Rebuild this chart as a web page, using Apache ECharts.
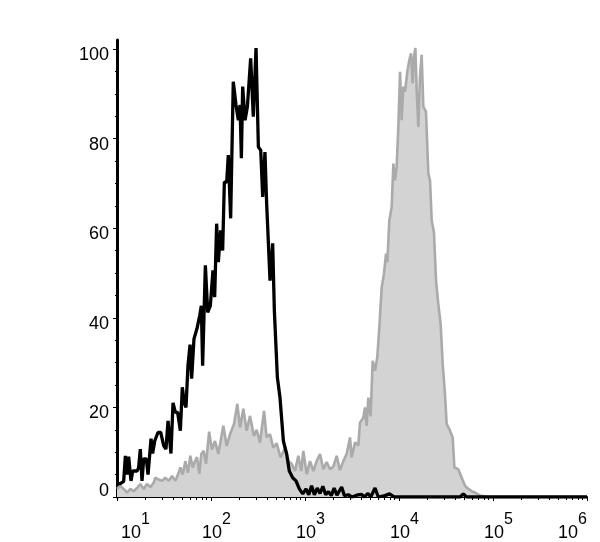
<!DOCTYPE html>
<html>
<head>
<meta charset="utf-8">
<script src="https://cdn.jsdelivr.net/npm/echarts@6/dist/echarts.min.js"></script>
<style>html,body{margin:0;padding:0;background:#fff}#c{width:600px;height:542px}</style>
</head>
<body>
<div id="c"></div>
<script>
// log10 of fluorescence intensity (x) and % of max count (y)
const blackX = [1.000,1.035,1.071,1.089,1.106,1.124,1.149,1.167,1.188,1.213,
1.230,1.248,1.266,1.284,1.312,1.330,1.362,1.379,1.401,1.436,
1.465,1.496,1.521,1.543,1.574,1.596,1.621,1.645,1.674,1.695,
1.716,1.734,1.755,1.777,1.794,1.819,1.851,1.880,1.897,1.911,
1.940,1.965,1.993,2.021,2.039,2.060,2.078,2.103,2.124,2.142,
2.167,2.184,2.209,2.237,2.266,2.291,2.309,2.323,2.337,2.362,
2.387,2.422,2.450,2.479,2.504,2.529,2.550,2.574,2.592,2.628,
2.656,2.674,2.706,2.734,2.770,2.805,2.833,2.869,2.904,2.940,
2.976,3.011,3.040,3.07,3.10,3.13,3.16,3.19,3.22,3.25,
3.28,3.31,3.34,3.37,3.39,3.42,3.46,3.50,3.55,3.60,
3.63,3.67,3.70,3.745,3.78,3.85,3.90,3.95,4.65,4.684,
4.72,6.0];
const blackY = [3,3,3.5,9.2,5,9,3.6,5.8,5.5,5.8,
6.5,10.7,3.6,8.5,8.5,5,13,9.7,12.5,14.4,
14.4,11.5,10.7,17,9.7,21,18.9,18.9,14.8,24.5,
21,20,29.3,34,26.4,35.3,37.6,40.5,42.7,29.3,
51.7,41.2,42.7,50.6,44.6,61,52.4,59.5,55,70.3,
70.3,76.3,62.2,92.7,87.5,84.1,87.5,75.6,91.6,84.1,
87.1,97.9,84.9,100.2,78.1,77.4,67,77,65.5,48.3,
56.6,41.6,26.7,22.2,12.5,9.6,5.8,4.3,3.6,1.8,
0.7,1.8,0.5,2.5,0.5,2.0,0.8,2.4,0.5,1.2,
0.3,2.0,0.4,1.5,2.2,0.3,0.5,0,0.4,0.6,
0,0.8,0,2.0,0,0.3,0.7,0,0,0.7,
0,0];
const grayX = [1.000,1.035,1.071,1.106,1.142,1.177,1.213,1.248,1.284,1.319,
1.355,1.390,1.408,1.443,1.479,1.514,1.550,1.585,1.621,1.656,
1.674,1.699,1.727,1.755,1.780,1.805,1.826,1.851,1.876,1.897,
1.922,1.947,1.980,2.009,2.043,2.078,2.131,2.167,2.202,2.245,
2.280,2.309,2.344,2.379,2.415,2.457,2.486,2.521,2.564,2.592,
2.628,2.663,2.699,2.741,2.787,2.823,2.858,2.894,2.929,2.960,
2.982,3.018,3.053,3.089,3.124,3.160,3.195,3.230,3.266,3.301,
3.337,3.372,3.408,3.443,3.479,3.496,3.532,3.567,3.585,3.620,
3.638,3.656,3.674,3.698,3.720,3.745,3.769,3.791,3.816,3.840,
3.862,3.876,3.897,3.922,3.940,3.957,3.975,3.993,4.011,4.028,
4.046,4.064,4.088,4.110,4.128,4.145,4.160,4.174,4.188,4.206,
4.223,4.241,4.259,4.287,4.312,4.330,4.348,4.372,4.394,4.418,
4.443,4.465,4.489,4.507,4.543,4.571,4.589,4.631,4.667,4.702,
4.738,4.773,4.809,4.862,4.950,6.0];
const grayY = [1.8,2.5,1.8,1.0,1.8,1.3,2.0,2.9,1.8,2.9,
2.2,3.2,4.3,3.9,3.6,4.3,3.6,4.7,3.6,5.4,
6.6,5.0,8.0,5.4,9.2,6.6,7.8,8.9,5.2,9.6,
10.3,7.4,14.6,10.6,12.5,9.6,15.9,11.4,14.0,16.3,
20.8,15.5,19.7,14.8,18.1,13.6,15.0,12.1,19.2,13.3,
14.0,11.0,12.0,8.8,11.0,8.0,7.4,5.8,9.2,5.8,
10.3,5.1,8.0,5.8,8.0,9.6,6.2,7.8,6.2,6.8,
9.2,6.0,8.0,9.6,13.3,8.8,12.2,11.5,16.6,17.7,
20.0,15.9,22.2,18.0,30.4,28.2,31.2,37.9,46.8,49.8,
54.3,52.4,61.7,64.7,74.4,70.7,73.7,82.6,94.9,84.1,
91.6,90.5,94.9,97.5,99.0,92.3,98.3,100.2,90.8,82.6,
93.8,98.7,87.1,86.0,72.2,70.7,61.7,59.1,48.3,43.1,
38.6,29.7,23.0,16.3,14.8,13.3,6.6,6.2,4.3,2.5,
1.8,1.3,1.0,0.3,0,0];
const xDecades = [1,2,3,4,5,6];
const yTicks = [0,20,40,60,80,100];

const minorX = [];
for (let d = 1; d < 6; d++) for (let k = 2; k <= 9; k++) minorX.push(d + Math.log10(k));

const FONT = 'Arial, "Liberation Sans", sans-serif';
const chart = echarts.init(document.getElementById('c'), null, {renderer: 'canvas'});
chart.setOption({
  animation: false,
  backgroundColor: '#fff',
  grid: {left: 117, right: 13, top: 40, bottom: 45, containLabel: false},
  xAxis: [{
    type: 'value', min: 1, max: 6, interval: 1, position: 'bottom',
    axisLine: {show: true, onZero: false, lineStyle: {color: '#000', width: 2}},
    axisTick: {show: true, length: 4, customValues: xDecades, lineStyle: {color: '#000', width: 1}},
    splitLine: {show: false},
    axisLabel: {
      customValues: xDecades,
      margin: 15, color: '#000', fontFamily: FONT,
      alignMinLabel: 'left', alignMaxLabel: 'right',
      formatter: v => (v === 1 ? '{q|}' : '{p|}') + '{b|10}{s|' + v + '}',
      rich: {
        p: {width: 11, lineHeight: 30},
        q: {width: 4, lineHeight: 30},
        b: {fontSize: 18, lineHeight: 14, verticalAlign: 'bottom', fontFamily: FONT, color: '#000'},
        s: {fontSize: 16, lineHeight: 18, verticalAlign: 'top', fontFamily: FONT, color: '#000'}
      }
    }
  }, {
    type: 'value', min: 1, max: 6, position: 'bottom', offset: 0,
    axisLine: {show: false},
    axisLabel: {show: false},
    splitLine: {show: false},
    axisTick: {show: true, length: 3, customValues: minorX, lineStyle: {color: '#000', width: 1}}
  }],
  yAxis: {
    type: 'value', min: 0, max: 102, interval: 20,
    axisLine: {show: true, lineStyle: {color: '#000', width: 3}},
    axisTick: {show: true, length: 4, customValues: yTicks, lineStyle: {color: '#000', width: 1}},
    minorTick: {show: true, splitNumber: 4, length: 2, lineStyle: {color: '#000', width: 1}},
    splitLine: {show: false},
    axisLabel: {
      customValues: yTicks, margin: 8, color: '#000', fontSize: 18, fontFamily: FONT,
      verticalAlign: 'top', lineHeight: 12, verticalAlignMinLabel: 'bottom'
    }
  },
  series: [{
    type: 'line', xAxisIndex: 0, data: grayX.map((x, i) => [x, grayY[i]]),
    showSymbol: false, symbol: 'none',
    lineStyle: {color: '#aaaaaa', width: 2.6},
    areaStyle: {color: '#d3d3d3', opacity: 1},
    z: 2
  }, {
    type: 'line', xAxisIndex: 0, data: blackX.map((x, i) => [x, blackY[i]]),
    showSymbol: false, symbol: 'none',
    lineStyle: {color: '#000', width: 3.3},
    z: 3
  }]
});
</script>
</body>
</html>
